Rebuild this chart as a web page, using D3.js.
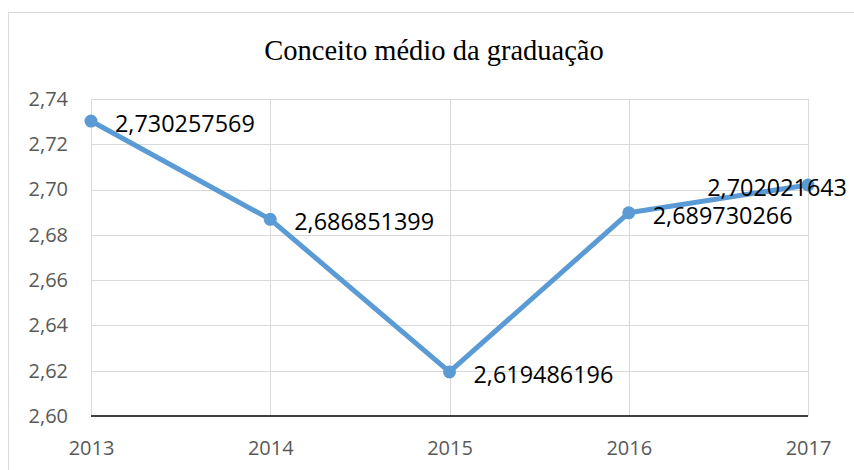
<!DOCTYPE html>
<html><head><meta charset="utf-8">
<script src="https://cdn.jsdelivr.net/npm/d3@7"></script>
<style>body{margin:0;background:#fff}svg{display:block}</style>
</head><body>
<svg id="c" width="854" height="470"></svg>
<script>
const categories = ["2013","2014","2015","2016","2017"];
const values = [2.730257569, 2.686851399, 2.619486196, 2.689730266, 2.702021643];
const valueLabels = ["2,730257569","2,686851399","2,619486196","2,689730266","2,702021643"];
const yTicks = [2.60,2.62,2.64,2.66,2.68,2.70,2.72,2.74];
const title = "Conceito médio da graduação";

const svg = d3.select("#c");
const W = 854, H = 470;
const m = {left:91, right:46, top:99, bottom:54};

// chart border
svg.append("rect").attr("x",8.5).attr("y",12.5).attr("width",W+10).attr("height",H+10)
  .attr("fill","none").attr("stroke","#d9d9d9").attr("stroke-width",1);

const x = d3.scalePoint().domain(categories).range([m.left, W - m.right]);
const y = d3.scaleLinear().domain([2.60, 2.74]).range([H - m.bottom, m.top]);

// horizontal gridlines
svg.append("g").selectAll("line").data(yTicks.slice(1)).join("line")
  .attr("x1",m.left).attr("x2",W-m.right)
  .attr("y1",d=>Math.round(y(d))+0.5).attr("y2",d=>Math.round(y(d))+0.5)
  .attr("stroke","#d9d9d9").attr("stroke-width",1);
// vertical gridlines
svg.append("g").selectAll("line").data(categories).join("line")
  .attr("x1",d=>Math.round(x(d))+0.5).attr("x2",d=>Math.round(x(d))+0.5)
  .attr("y1",y(2.74)).attr("y2",y(2.60))
  .attr("stroke","#d9d9d9").attr("stroke-width",1);

// y axis labels
const yAxis = d3.axisLeft(y).tickValues(yTicks).tickSize(0).tickPadding(23)
  .tickFormat(d=>d3.format(".2f")(d).replace(".",","));
const gy = svg.append("g").attr("transform",`translate(${m.left},0)`).call(yAxis);
gy.select(".domain").remove();
gy.selectAll("text").attr("fill","#595959").style("font-family","'Open Sans', sans-serif").style("font-size","20px");

// x axis
const xAxis = d3.axisBottom(x).tickSize(0).tickPadding(25);
const gx = svg.append("g").attr("transform",`translate(0,${y(2.60)})`).call(xAxis);
gx.select(".domain").attr("stroke","#000").attr("stroke-width",1.5).attr("d",`M${m.left},0H${W-m.right}`);
gx.selectAll("text").attr("fill","#595959").style("font-family","'Open Sans', sans-serif").style("font-size","20px");

// title
svg.append("text").attr("x",434).attr("y",60).attr("text-anchor","middle")
  .style("font-family","'Liberation Serif','Times New Roman',serif").style("font-size","28.5px")
  .attr("fill","#000").text(title);

// line
const line = d3.line().x((d,i)=>x(categories[i])).y(d=>y(d));
svg.append("path").datum(values).attr("d",line).attr("fill","none")
  .attr("stroke","#5b9bd5").attr("stroke-width",5).attr("stroke-linejoin","round");
svg.append("g").selectAll("circle").data(values).join("circle")
  .attr("cx",(d,i)=>x(categories[i])).attr("cy",d=>y(d)).attr("r",6.5).attr("fill","#5b9bd5");

// data labels
const lab = svg.append("g").selectAll("text").data(values).join("text")
  .style("font-family","'Open Sans', sans-serif").style("font-size","23.4px").attr("fill","#000")
  .attr("dominant-baseline","central")
  .text((d,i)=>valueLabels[i]);
lab.each(function(d,i){
  const t = d3.select(this);
  const w = this.getComputedTextLength();
  let sx = x(categories[i]) + 24;
  if (sx + w > W - 7) sx = W - 7 - w;
  t.attr("x", sx).attr("y", y(d) + 2);
});
</script>
</body></html>
